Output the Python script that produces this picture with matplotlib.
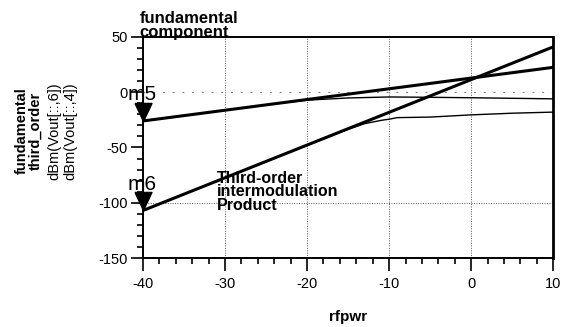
import matplotlib as mpl
mpl.use('Agg')
import matplotlib.pyplot as plt
import numpy as np

plt.rcParams['font.family'] = ['Liberation Sans', 'DejaVu Sans']
plt.rcParams['axes.unicode_minus'] = False

# extrapolated (ideal) responses, dBm
rfpwr_ideal = [-40, 10]
fund_ideal = [-26, 22.5]
im3_ideal = [-107, 41]

# simulated responses, dBm
rfpwr_fund = [-40, -30, -25, -22, -20, -15, -10, -5, 0, 5, 10]
fund_sim = [-26, -16.3, -11.5, -8.8, -7.2, -5.2, -4.3, -4.6, -5.0, -5.5, -6.0]
rfpwr_im3 = [-40, -30, -20, -15, -13, -11, -10, -9, -5, 0, 5, 10]
im3_sim = [-107, -77.5, -48, -33.5, -28.5, -25.5, -24.4, -23, -22.5, -20.5, -19, -18]

markers = {'m5': (-40, -26), 'm6': (-40, -107)}

xticks = [-40, -30, -20, -10, 0, 10]
yticks = [50, 0, -50, -100, -150]

fg = 'black'

f = plt.figure(figsize=(5.61, 3.27), dpi=100)
ax = f.add_axes([0.255, 0.211, 0.731, 0.676])

ax.plot(rfpwr_ideal, fund_ideal, color=fg, lw=2.2, solid_capstyle='butt')
ax.plot(rfpwr_ideal, im3_ideal, color=fg, lw=2.2, solid_capstyle='butt')
ax.plot(rfpwr_fund, fund_sim, color=fg, lw=1.0)
ax.plot(rfpwr_im3, im3_sim, color=fg, lw=1.0)

# gridlines
for xv in xticks[1:-1]:
    ax.axvline(xv, color='#555555', lw=0.7, ls=(0, (1, 1.5)), zorder=0)
ax.axhline(0, color='#777777', lw=0.7, ls=(0, (2, 8)), zorder=0)
ax.axhline(-100, color='#555555', lw=0.7, ls=(0, (1, 1.5)), zorder=0)

# markers: down triangle with tip on the point
tri = [(-0.47, 1.0), (0.47, 1.0), (0.0, 0.0), (-0.47, 1.0)]
for name, (mx, my) in markers.items():
    ax.plot([mx], [my], marker=tri, markersize=26, color=fg, clip_on=False, zorder=5)
    ax.annotate(name, (mx, my), xytext=(-11, 15), textcoords='offset points',
                fontsize=15, ha='left', va='baseline', annotation_clip=False)

ax.set_xlim(-40, 10)
ax.set_ylim(-150, 50)
ax.set_xticks(xticks)
ax.set_yticks(yticks)
ax.set_xticks(np.arange(-40, 11, 2), minor=True)
ax.set_yticks(np.arange(-150, 51, 10), minor=True)
ax.tick_params(which='major', direction='out', length=9, width=1.2, labelsize=10.5)
ax.tick_params(axis='x', which='major', pad=5)
ax.tick_params(axis='y', which='major', pad=2)
ax.tick_params(which='minor', direction='out', length=4, width=1.2)
for s in ax.spines.values():
    s.set_color(fg)
    s.set_linewidth(1.4)
ax.spines['right'].set_linewidth(2.0)

ax.set_xlabel('rfpwr', fontsize=11, fontweight='bold', labelpad=13)

ax.text(-40.4, 50, 'fundamental\ncomponent', fontsize=12, fontweight='bold',
        ha='left', va='baseline', linespacing=0.95)
ax.text(-31, -71, 'Third-order\nintermodulation\nProduct', fontsize=11.5,
        fontweight='bold', ha='left', va='top', linespacing=0.88)

# stacked y labels
ylabels = [('fundamental', 'bold', 22), ('third_order', 'bold', 36),
           ('dBm(Vout[::,6])', 'normal', 54), ('dBm(Vout[::,4])', 'normal', 70)]
for txt, wt, px in ylabels:
    f.text(px / 561, 1 - 131 / 327, txt, rotation=90, fontsize=10.5, fontweight=wt,
           ha='center', va='center')

f.savefig('out.png', dpi=100, facecolor='white')
